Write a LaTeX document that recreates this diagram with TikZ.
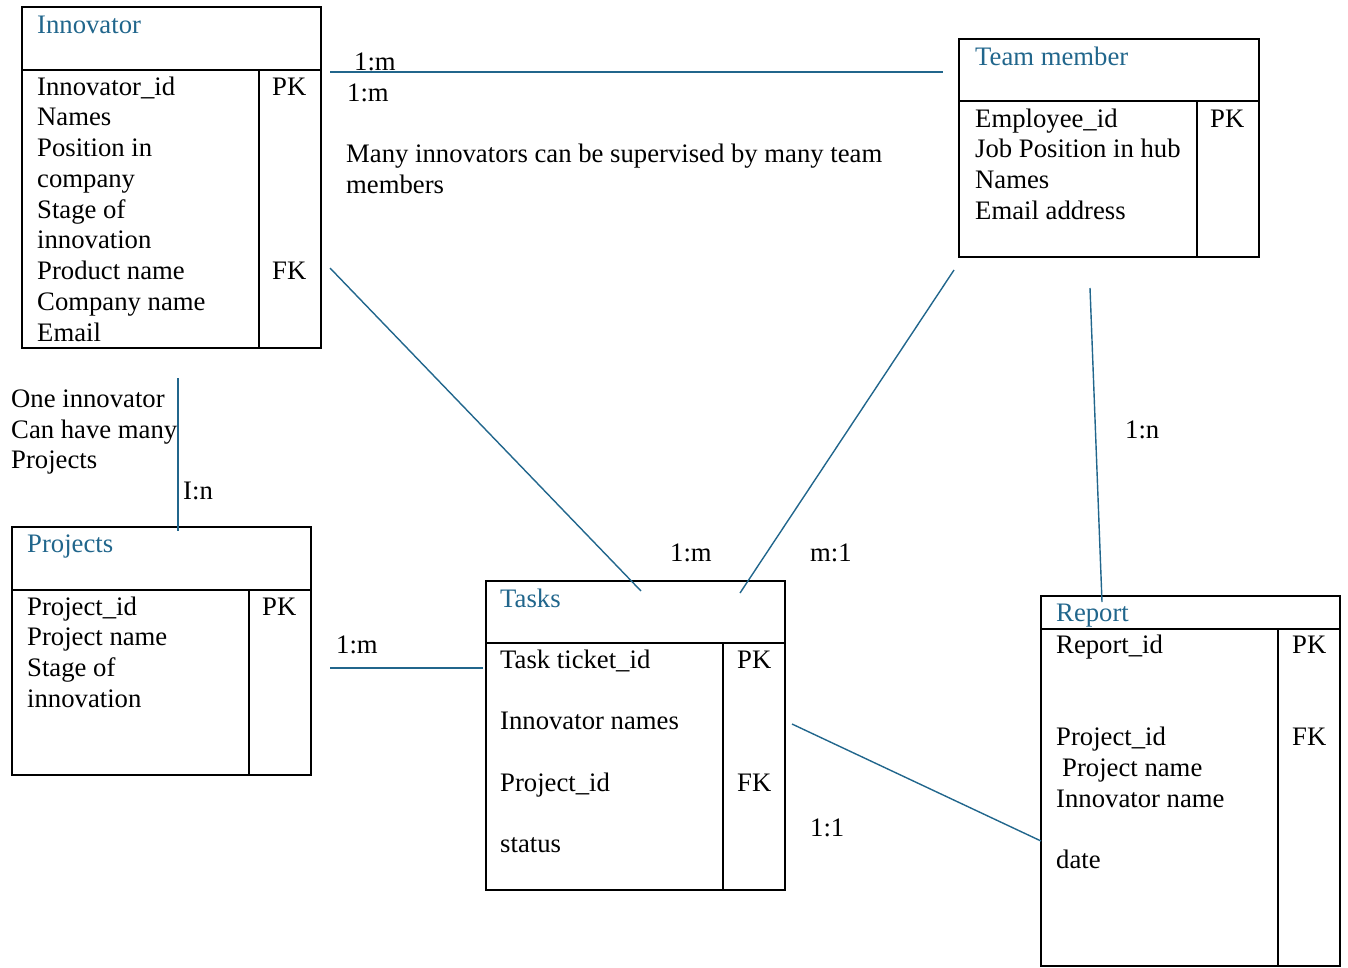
\documentclass[tikz,border=0pt]{standalone}
\usepackage{fontspec}
\setmainfont{Liberation Serif}
\definecolor{relblue}{HTML}{21668C}
\begin{document}
\begin{tikzpicture}[x=1pt,y=-1pt,
  box/.style={draw=black,line width=2.2pt,rectangle,inner sep=0pt,outer sep=0pt,anchor=north west},
  rule/.style={draw=black,line width=2.2pt},
  rel/.style={draw=relblue,line width=1.4pt},
  txt/.style={inner sep=0pt,anchor=base west,font=\fontsize{26.7}{30.75}\selectfont},
  ttl/.style={txt,text=relblue}]
\useasboundingbox (0,0) rectangle (1348,967);

% ---------- Innovator ----------
\node[box,minimum width=299pt,minimum height=341pt] (innov) at (22,7) {};
\draw[rule] (22,70) -- (321,70) (259,70) -- (259,348);
\node[ttl] (innov-t) at (37,33) {Innovator};
\foreach \t [count=\i] in {Innovator\_id,Names,Position in,company,Stage of,innovation,Product name,Company name,Email}
  \node[txt] (innov-\i) at (37,{95+(\i-1)*30.75}) {\t};
\node[txt] (innov-pk) at (272,95) {PK};
\node[txt] (innov-fk) at (272,279.5) {FK};

% ---------- Team member ----------
\node[box,minimum width=300pt,minimum height=218pt] (team) at (959,39) {};
\draw[rule] (959,101) -- (1259,101) (1197,101) -- (1197,257);
\node[ttl] (team-t) at (975,65) {Team member};
\foreach \t [count=\i] in {Employee\_id,Job Position in hub,Names,Email address}
  \node[txt] (team-\i) at (975,{127+(\i-1)*30.75}) {\t};
\node[txt] (team-pk) at (1210,127) {PK};

% ---------- Projects ----------
\node[box,minimum width=299pt,minimum height=248pt] (proj) at (12,527) {};
\draw[rule] (12,590) -- (311,590) (249,590) -- (249,775);
\node[ttl] (proj-t) at (27,552) {Projects};
\foreach \t [count=\i] in {Project\_id,Project name,Stage of,innovation}
  \node[txt] (proj-\i) at (27,{615+(\i-1)*30.75}) {\t};
\node[txt] (proj-pk) at (262,615) {PK};

% ---------- Tasks ----------
\node[box,minimum width=299pt,minimum height=309pt] (task) at (486,581) {};
\draw[rule] (486,643) -- (785,643) (723,643) -- (723,890);
\node[ttl] (task-t) at (500,607) {Tasks};
\foreach \t [count=\i] in {Task ticket\_id,Innovator names,Project\_id,status}
  \node[txt] (task-\i) at (500,{668+(\i-1)*61.5}) {\t};
\node[txt] (task-pk) at (737,668) {PK};
\node[txt] (task-fk) at (737,791) {FK};

% ---------- Report ----------
\node[box,minimum width=299pt,minimum height=370pt] (rep) at (1041,596) {};
\draw[rule] (1041,629) -- (1340,629) (1278,629) -- (1278,966);
\node[ttl] (rep-t) at (1056,621) {Report};
\node[txt] (rep-1) at (1056,653) {Report\_id};
\node[txt] (rep-2) at (1056,745.5) {Project\_id};
\node[txt] (rep-3) at (1062,776.25) {Project name};
\node[txt] (rep-4) at (1056,807) {Innovator name};
\node[txt] (rep-5) at (1056,868.5) {date};
\node[txt] (rep-pk) at (1292,653) {PK};
\node[txt] (rep-fk) at (1292,745.5) {FK};

% ---------- connector end points ----------
\coordinate (it-a) at (330,72);   \coordinate (it-b) at (943,72);
\coordinate (ik-a) at (330,268);  \coordinate (ik-b) at (641,591);
\coordinate (tk-a) at (954,270);  \coordinate (tk-b) at (740,593);
\coordinate (tr-a) at (1090,288); \coordinate (tr-b) at (1102,602);
\coordinate (ip-a) at (178,378);  \coordinate (ip-b) at (178,531);
\coordinate (pk-a) at (330,668);  \coordinate (pk-b) at (483,668);
\coordinate (kr-a) at (792,724);  \coordinate (kr-b) at (1041,841);

\draw[rel] (it-a) -- (it-b);
\draw[rel] (ik-a) -- (ik-b);
\draw[rel] (tk-a) -- (tk-b);
\draw[rel] (tr-a) -- (tr-b);
\draw[rel] (ip-a) -- (ip-b);
\draw[rel] (pk-a) -- (pk-b);
\draw[rel] (kr-a) -- (kr-b);

% ---------- cardinalities and notes ----------
\node[txt] (c-it1) at (354,70) {1:m};
\node[txt] (c-it2) at (347,101) {1:m};
\node[txt] (note-it1) at (346,162) {Many innovators can be supervised by many team};
\node[txt] (note-it2) at (346,193) {members};
\node[txt] (c-ik) at (670,561) {1:m};
\node[txt] (c-tk) at (810,561) {m:1};
\node[txt] (c-tr) at (1125,438) {1:n};
\node[txt] (note-ip1) at (11,407) {One innovator};
\node[txt] (note-ip2) at (11,438) {Can have many};
\node[txt] (note-ip3) at (11,468) {Projects};
\node[txt] (c-ip) at (183,499) {I:n};
\node[txt] (c-pk) at (336,653) {1:m};
\node[txt] (c-kr) at (810,836) {1:1};
\end{tikzpicture}
\end{document}
